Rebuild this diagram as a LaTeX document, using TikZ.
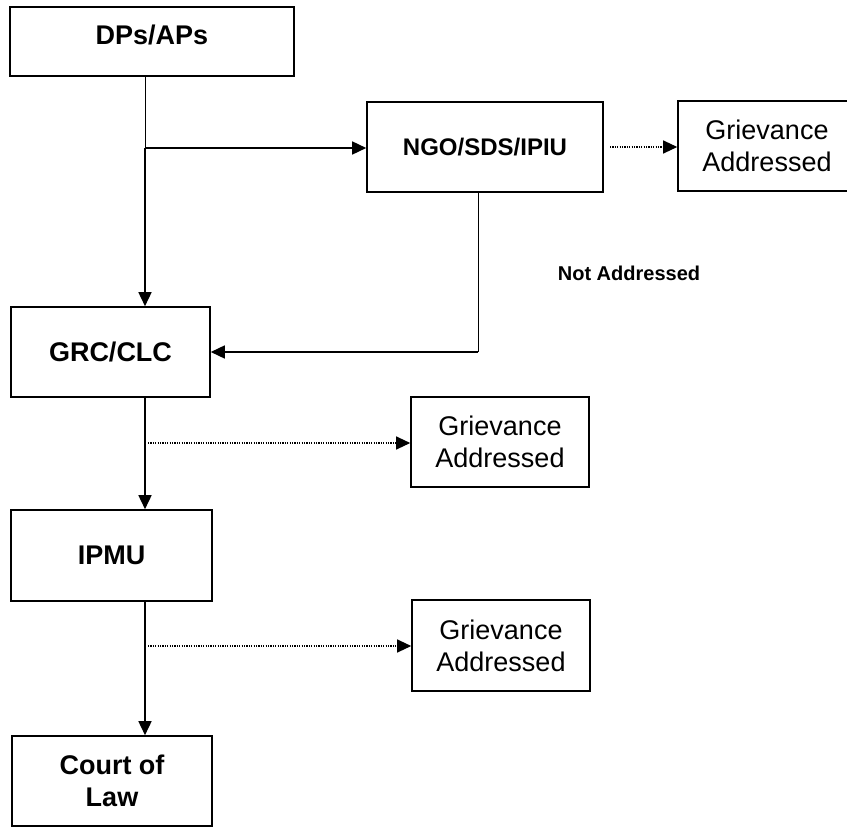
\documentclass[tikz,border=0pt]{standalone}
\usepackage{fontspec}
\setmainfont{Liberation Sans}
\usetikzlibrary{arrows.meta}
\begin{document}
\begin{tikzpicture}[x=1pt,y=-1pt,
  box/.style={draw, line width=1.6pt, inner sep=0pt, align=center, font=\fontsize{27}{32}\selectfont\bfseries},
  gbox/.style={draw, line width=1.6pt, inner sep=0pt, align=center, font=\fontsize{27}{32}\selectfont, minimum width=178pt, minimum height=90pt},
  arr/.style={line width=1.6pt, -{Triangle[length=14pt,width=13pt]}},
  dotarr/.style={line width=1.2pt, dash pattern=on 1.2pt off 1.2pt, -{Triangle[length=14pt,width=13pt]}},
  thinline/.style={line width=1pt}]
\useasboundingbox (0,0) rectangle (847,827);
% boxes
\node[box, minimum width=284pt, minimum height=69pt] (dps) at (152,41.5) {\raisebox{-3pt}[0pt][0pt]{DPs/APs}};
\node[box, minimum width=236pt, minimum height=90pt, font=\fontsize{24}{28}\selectfont\bfseries] (ngo) at (485,147) {NGO/SDS/IPIU};
\node[gbox] (ga1) at (767,146) {Grievance\\Addressed};
\node[box, minimum width=199pt, minimum height=90pt] (grc) at (110.5,352) {GRC/CLC};
\node[gbox] (ga2) at (500,442) {Grievance\\Addressed};
\node[box, minimum width=201pt, minimum height=91pt] (ipmu) at (111.5,555.5) {IPMU};
\node[gbox, minimum height=91pt] (ga3) at (501,645.5) {Grievance\\Addressed};
\node[box, minimum width=200pt, minimum height=90pt] (court) at (112,781) {Court of\\Law};
\node[font=\fontsize{20}{24}\selectfont\bfseries] (na) at (629,273) {Not Addressed};
% junction coordinates
\coordinate (j1) at (145,148);
\coordinate (j2) at (478,352);
\coordinate (j3) at (145,443);
\coordinate (j4) at (145,646);
\coordinate (d1) at (610,147);
% connectors
\draw[thinline] (dps.south -| j1) -- (j1);
\draw[arr] (j1) -- (grc.north -| j1);
\draw[arr] (j1) -- (ngo.west |- j1);
\draw[dotarr] (d1) -- (ga1.west |- d1);
\draw[thinline] (ngo.south -| j2) -- (j2);
\draw[arr] (j2) -- (grc.east |- j2);
\draw[arr] (grc.south -| j3) -- (ipmu.north -| j3);
\draw[dotarr] ([xshift=3pt]j3) -- (ga2.west |- j3);
\draw[arr] (ipmu.south -| j4) -- (court.north -| j4);
\draw[dotarr] ([xshift=3pt]j4) -- (ga3.west |- j4);
\end{tikzpicture}
\end{document}
